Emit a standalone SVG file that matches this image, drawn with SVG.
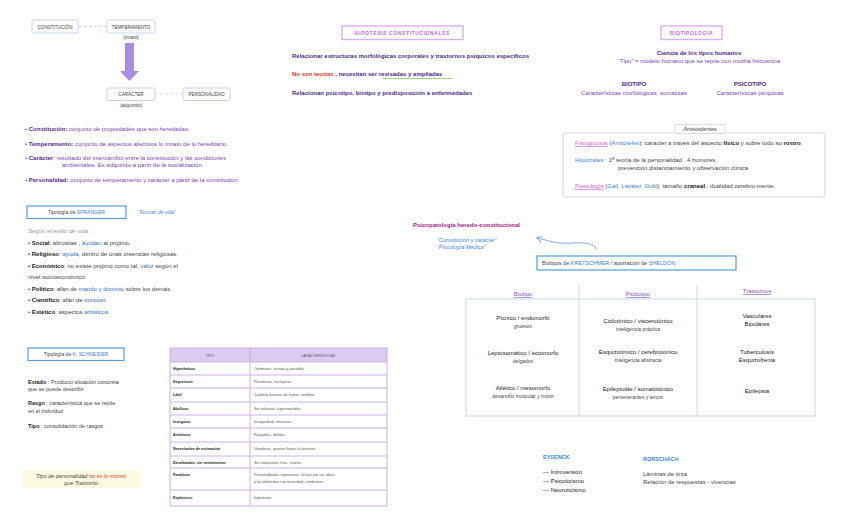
<svg xmlns="http://www.w3.org/2000/svg" width="848" height="530" viewBox="0 0 848 530">
<defs>
<style>
text{font-family:"Liberation Sans",Arial,sans-serif;font-size:6px;fill:#333}
.sm{font-size:4.6px;fill:#444}
.box{fill:#fff;stroke:#c6d4ef;stroke-width:1}
.bbox{fill:#fff;stroke:#5b9be6;stroke-width:1.2}
.pbox{fill:#fff;stroke:#dcb0f0;stroke-width:1.4}
.lbl{fill:#5c2a8c;font-weight:bold}
.pur{fill:#7d45b3}
.dp{fill:#4f2a86;font-weight:bold}
.blue{fill:#3d86e0}
.bl{fill:#2f6fc7}
.red{fill:#e8322a}
.it{font-style:italic}
.b{font-weight:bold}
.g{fill:#444}
.hd{fill:#8a4fc0;text-decoration:underline}
.k{fill:#222}
.grid{fill:none;stroke:#c8d8ee;stroke-width:1}
.tb{fill:none;stroke:#caa7e6;stroke-width:0.9}
.tt{font-size:3.7px;fill:#555}
.tk{font-size:3.7px;fill:#222;font-weight:bold}
</style>
<marker id="ah" viewBox="0 0 10 10" refX="8" refY="5" markerWidth="7" markerHeight="7" orient="auto">
<path d="M1,1 L9,5 L1,9" fill="none" stroke="#6aa4ea" stroke-width="1.4"/>
</marker>
</defs>
<rect width="848" height="530" fill="#fff"/>

<g id="connectors">
<line x1="79" y1="26.5" x2="107" y2="26.5" stroke="#c9d6f0" stroke-width="0.8" stroke-dasharray="3,2"/>
<line x1="155" y1="94" x2="183" y2="94" stroke="#c9d6f0" stroke-width="0.8" stroke-dasharray="3,2"/>
<path d="M125,43 H134 V71 H139 L129.5,81 L120,71 H125 Z" fill="#a98be2"/>
<path d="M597,249 C588,238 570,246 553,242 C546,240 541,239 537,238" fill="none" stroke="#6aa4ea" stroke-width="0.9" marker-end="url(#ah)"/>
<path d="M383,78.5 H452" stroke="#9ccf6a" stroke-width="0.9"/>
</g>

<g id="n-constitucion"><rect class="box" x="32" y="20" width="46" height="13" rx="1.5"/><text class="sm" x="55" y="28.5" text-anchor="middle">CONSTITUCIÓN</text></g>
<g id="n-temperamento"><rect class="box" x="107" y="20" width="48" height="13" rx="1.5"/><text class="sm" x="131" y="28.5" text-anchor="middle">TEMPERAMENTO</text><text class="sm" x="131" y="39" text-anchor="middle">(innato)</text></g>
<g id="n-caracter"><rect class="box" x="107" y="88" width="48" height="12.5" rx="1.5"/><text class="sm" x="131" y="96" text-anchor="middle">CARÁCTER</text><text class="sm" x="131" y="107" text-anchor="middle">(adquirido)</text></g>
<g id="n-personalidad"><rect class="box" x="183" y="88" width="47" height="12.5" rx="1.5"/><text class="sm" x="206.5" y="96" text-anchor="middle">PERSONALIDAD</text></g>

<g id="definiciones">
<text x="25" y="131"><tspan class="pur">• </tspan><tspan class="lbl">Constitución:</tspan><tspan class="pur">  conjunto de propiedades que son heredadas.</tspan></text>
<text x="25" y="145.5"><tspan class="pur">• </tspan><tspan class="lbl">Temperamento:</tspan><tspan class="pur">  conjunto de aspectos afectivos lo innato de lo hereditario.</tspan></text>
<text x="25" y="160"><tspan class="pur">• </tspan><tspan class="lbl">Carácter</tspan><tspan class="pur">:    resultado del intercambio entre la constitución y las condiciones</tspan></text>
<text x="62" y="167" class="pur">ambientales. Es adquirido a partir de la socialización.</text>
<text x="25" y="182"><tspan class="pur">• </tspan><tspan class="lbl">Personalidad:</tspan><tspan class="pur">  conjunto de temperamento y carácter a partir de la constitución.</tspan></text>
</g>

<g id="n-hipotesis">
<rect class="pbox" x="342" y="26" width="121" height="13.5"/>
<text x="402.5" y="35" text-anchor="middle" style="font-size:5px;fill:#c56ad6;font-weight:bold;letter-spacing:0.6px">HIPÓTESIS CONSTITUCIONALES</text>
<text x="292" y="57.5" class="dp">Relacionar estructuras morfológicas corporales y trastornos psíquicos específicos</text>
<text x="292" y="75.5" class="dp"><tspan class="red">No son teorías</tspan> , necesitan ser revisadas y ampliadas</text>
<text x="292" y="94.5" class="dp">Relacionan psicotipo, biotipo y predisposición a enfermedades</text>
</g>

<g id="n-biotipologia">
<rect class="pbox" x="661" y="26" width="61" height="13.5"/>
<text x="691.5" y="35" text-anchor="middle" style="font-size:5px;fill:#c56ad6;font-weight:bold;letter-spacing:0.6px">BIOTIPOLOGÍA</text>
<text x="699" y="55" text-anchor="middle" class="dp">Ciencia de los tipos humanos</text>
<text x="699" y="63" text-anchor="middle" class="pur">“Tipo” = modelo humano que se repite con mucha frecuencia</text>
<text x="634" y="86" text-anchor="middle" class="dp">BIOTIPO</text>
<text x="634" y="95" text-anchor="middle" class="pur">Características morfológicas, somáticas</text>
<text x="750" y="86" text-anchor="middle" class="dp">PSICOTIPO</text>
<text x="750" y="95" text-anchor="middle" class="pur">Características psíquicas</text>
</g>

<g id="n-antecedentes">
<rect x="563" y="133" width="262" height="64" fill="#fff" stroke="#d6d6d6" stroke-width="1" rx="1.5"/>
<rect x="675" y="124.5" width="50" height="9" fill="#fff" stroke="#d6d6d6" stroke-width="0.8"/>
<text x="700" y="131" text-anchor="middle" class="it g" style="font-size:5.5px">Antecedentes</text>
<text x="575" y="145"><tspan style="fill:#d35ad6;text-decoration:underline">Fisiognomía</tspan><tspan class="g"> (</tspan><tspan class="blue">Aristóteles</tspan><tspan class="g">):  carácter a través del aspecto </tspan><tspan class="b k">físico</tspan><tspan class="g">  y sobre todo su </tspan><tspan class="b k">rostro</tspan><tspan class="g">.</tspan></text>
<text x="575" y="162"><tspan class="blue">Hipócrates</tspan><tspan class="g"> :     1ª teoría de la personalidad , 4 humores,</tspan></text>
<text x="618" y="170" class="g">prevención,distanciamiento y observación clínica</text>
<text x="575" y="188"><tspan style="fill:#d35ad6;text-decoration:underline">Frenología</tspan><tspan class="g"> (</tspan><tspan class="blue">Gall, Lavater, Gubi</tspan><tspan class="g">):   tamaño </tspan><tspan class="b k">craneal</tspan><tspan class="g">  , dualidad cerebro-mente.</tspan></text>
</g>

<g id="n-spranger">
<rect class="bbox" x="27" y="206" width="99" height="12.5"/>
<text x="76.5" y="214.2" text-anchor="middle" style="font-size:5px" class="g">Tipología de <tspan class="blue">SPRANGER</tspan></text>
<text x="138" y="214" class="blue it" style="font-size:5px">“Formas de vida”</text>
<text x="28" y="233" class="it" style="fill:#999">Según el estilo de vida :</text>
<text x="28" y="244.5" class="g">• <tspan class="b k">Social</tspan>: altruistas , <tspan class="bl">ayudan</tspan> al prójimo.</text>
<text x="28" y="256" class="g">• <tspan class="b k">Religioso</tspan>: <tspan class="bl">ayuda</tspan>, dentro de unas creencias religiosas.</text>
<text x="28" y="267.5" class="g">• <tspan class="b k">Económico</tspan>: no existe prójimo como tal, <tspan class="bl">valor</tspan> según el</text>
<text x="28" y="279" class="g">nivel socioeconómico</text>
<text x="28" y="290.5" class="g">• <tspan class="b k">Político</tspan>: afán de <tspan class="bl">mando y dominio</tspan> sobre los demás.</text>
<text x="28" y="302" class="g">• <tspan class="b k">Científico</tspan>: afán de <tspan class="bl">conocer</tspan>.</text>
<text x="28" y="314" class="g">• <tspan class="b k">Estético</tspan>: aspectos <tspan class="bl">artísticos</tspan>.</text>
</g>

<g id="n-psicopatologia">
<text x="413" y="227" style="fill:#a6237f;font-weight:bold">Psicopatología heredo-constitucional</text>
<text x="437" y="241.5" class="blue it" style="font-size:5.5px">“Constitución y carácter”</text>
<text x="437" y="249" class="blue it" style="font-size:5.5px">“Psicología Médica”</text>
</g>

<g id="n-kretschmer">
<rect class="bbox" x="537" y="256" width="199" height="14"/>
<text x="542" y="265" style="font-size:5.5px" class="g">Biotipos de <tspan class="blue">KRETSCHMER</tspan>    /    aportación de <tspan class="blue">SHELDON</tspan></text>
</g>

<g id="n-tabla-kretschmer">
<rect class="grid" x="466" y="299" width="349" height="117"/>
<line class="grid" x1="579" y1="285" x2="579" y2="416"/>
<line class="grid" x1="697" y1="285" x2="697" y2="416"/>
<text x="523" y="296" text-anchor="middle" class="hd">Biotipo</text>
<text x="638" y="296" text-anchor="middle" class="hd">Psicotipo</text>
<text x="757" y="293" text-anchor="middle" class="hd">Trastornos</text>
<g text-anchor="middle">
<text x="523" y="320" class="k">Pícnico / endomorfo</text>
<text x="523" y="328" class="g" style="font-size:5px">gruesos</text>
<text x="523" y="355" class="k">Leptosomático / ectomorfo</text>
<text x="523" y="363" class="g" style="font-size:5px">delgados</text>
<text x="523" y="390" class="k">Atlético / mesomorfo</text>
<text x="523" y="398" class="g" style="font-size:5px">desarrollo muscular y motor</text>
<text x="638" y="323" class="k">Ciclotímico / viscerotónico</text>
<text x="638" y="331" class="g" style="font-size:5px">inteligencia práctica</text>
<text x="638" y="354" class="k">Esquizotímico / cerebrotónico</text>
<text x="638" y="362" class="g" style="font-size:5px">inteligencia abstracta</text>
<text x="638" y="391" class="k">Epileptoide / somatotónico</text>
<text x="638" y="399" class="g" style="font-size:5px">perseverantes y tercos</text>
<text x="757" y="318" class="k">Vasculares</text>
<text x="757" y="326" class="k">Bipolares</text>
<text x="757" y="354" class="k">Tuberculosis</text>
<text x="757" y="362" class="k">Esquizofrenia</text>
<text x="757" y="393" class="k">Epilepsia</text>
</g>
</g>

<g id="n-schneider">
<rect class="bbox" x="28" y="348" width="96" height="12.5"/>
<text x="76" y="356.3" text-anchor="middle" style="font-size:5px" class="g">Tipología de <tspan class="blue">K. SCHNEIDER</tspan></text>
<text x="28" y="384" class="g" style="font-size:5.5px"><tspan class="b k">Estado</tspan> : Producto situación concreta</text>
<text x="28" y="391" class="g" style="font-size:5.5px">que se puede describir</text>
<text x="28" y="405" class="g" style="font-size:5.5px"><tspan class="b k">Rasgo</tspan> : característica que se repite</text>
<text x="28" y="412.5" class="g" style="font-size:5.5px">en el individuo</text>
<text x="28" y="428" class="g" style="font-size:5.5px"><tspan class="b k">Tipo</tspan> : consolidación de rasgos</text>
<rect x="22" y="470" width="118" height="18" fill="#fdfbe1"/>
<text x="81" y="477.5" text-anchor="middle" class="it g" style="font-size:5.5px">Tipo de personalidad <tspan class="red">no es lo mismo</tspan></text>
<text x="81" y="485" text-anchor="middle" class="it g" style="font-size:5.5px">que Trastorno</text>
</g>

<g id="n-tabla-schneider">
<rect x="170" y="348" width="217" height="14" fill="#dccbf1"/>
<rect class="tb" x="170" y="348" width="217" height="158"/>
<line class="tb" x1="250" y1="348" x2="250" y2="506"/>
<g class="tb">
<line x1="170" y1="362" x2="387" y2="362"/>
<line x1="170" y1="375" x2="387" y2="375"/>
<line x1="170" y1="388" x2="387" y2="388"/>
<line x1="170" y1="402" x2="387" y2="402"/>
<line x1="170" y1="415" x2="387" y2="415"/>
<line x1="170" y1="428" x2="387" y2="428"/>
<line x1="170" y1="442" x2="387" y2="442"/>
<line x1="170" y1="456" x2="387" y2="456"/>
<line x1="170" y1="468" x2="387" y2="468"/>
<line x1="170" y1="490" x2="387" y2="490"/>
</g>
<text x="210" y="356.5" text-anchor="middle" class="tt">TIPO</text>
<text x="318" y="356.5" text-anchor="middle" class="tt">CARACTERÍSTICAS</text>
<text x="173" y="370" class="tk">Hipertímicos</text><text x="254" y="370" class="tt">Optimistas, activos y sociables</text>
<text x="173" y="383" class="tk">Depresivos</text><text x="254" y="383" class="tt">Pesimistas, escépticos</text>
<text x="173" y="396" class="tk">Lábil</text><text x="254" y="396" class="tt">Cambios bruscos de humor, irritables</text>
<text x="173" y="410" class="tk">Abúlicos</text><text x="254" y="410" class="tt">Sin voluntad, sugestionables</text>
<text x="173" y="423" class="tk">Inseguros</text><text x="254" y="423" class="tt">Inseguridad, sensitivos</text>
<text x="173" y="436" class="tk">Asténicos</text><text x="254" y="436" class="tt">Fatigables, débiles</text>
<text x="173" y="450" class="tk">Necesitados de estimación</text><text x="254" y="450" class="tt">Vanidosos, quieren llamar la atención</text>
<text x="173" y="463.5" class="tk">Desalmados, sin sentimientos</text><text x="254" y="463.5" class="tt">Sin compasión, fríos, crueles</text>
<text x="173" y="476" class="tk">Fanáticos</text><text x="254" y="476" class="tt">Personalidades expansivas, luchan por sus ideas</text>
<text x="254" y="482.5" class="tt">y las defienden con tenacidad, combativos</text>
<text x="173" y="499" class="tk">Explosivos</text><text x="254" y="499" class="tt">Impulsivos</text>
</g>

<g id="n-eysenck">
<text x="543" y="459" class="blue b" style="font-size:5.5px">EYSENCK</text>
<text x="543" y="474" class="k">— Introversión</text>
<text x="543" y="483" class="k">— Psicoticismo</text>
<text x="543" y="491.5" class="k">— Neuroticismo</text>
</g>
<g id="n-rorschach">
<text x="643" y="461" class="blue b" style="font-size:5.5px">RORSCHACH</text>
<text x="643" y="476" class="g">Láminas de tinta</text>
<text x="643" y="484" class="g">Relación de respuestas - vivencias</text>
</g>
</svg>
